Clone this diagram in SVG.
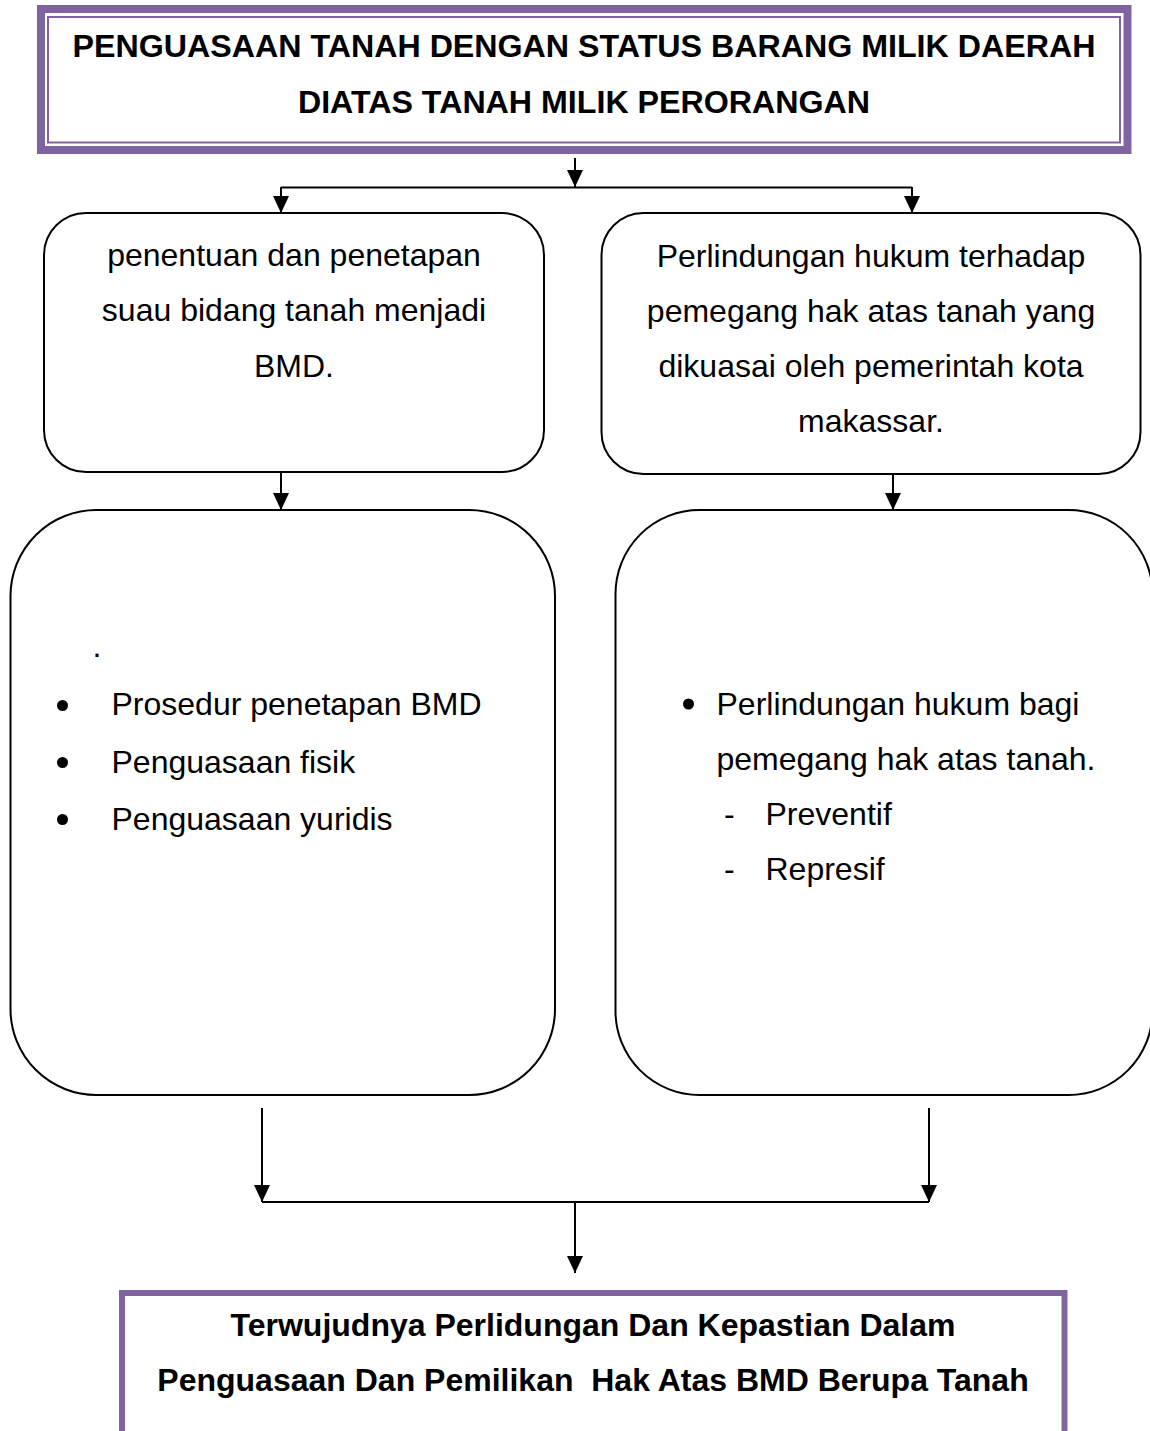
<svg xmlns="http://www.w3.org/2000/svg" width="1150" height="1431" viewBox="0 0 1150 1431">
<style>
.t{font-family:"Liberation Sans",Arial,sans-serif;font-size:32px;fill:#000}
.b{font-weight:bold}
.h{font-size:32.2px}
.c{text-anchor:middle}
.box{fill:#fff;stroke:#000;stroke-width:2}
.ln{fill:none;stroke:#000;stroke-width:2}
.ar{fill:none;stroke:#000;stroke-width:2;marker-end:url(#ah)}
.pu{fill:none;stroke:#8064A2}
</style>
<defs>
<marker id="ah" markerUnits="userSpaceOnUse" markerWidth="18" markerHeight="16" refX="17" refY="8" orient="auto" viewBox="0 0 18 16">
<path d="M0,0 L17,8 L0,16 z" fill="#000"/>
</marker>
</defs>
<rect width="1150" height="1431" fill="#fff"/>
<g id="connectors">
<line class="ar" x1="575" y1="158" x2="575" y2="187"/>
<line class="ln" x1="281" y1="187.5" x2="912" y2="187.5"/>
<line class="ar" x1="281" y1="187" x2="281" y2="213"/>
<line class="ar" x1="912" y1="187" x2="912" y2="213"/>
<line class="ar" x1="281" y1="472" x2="281" y2="510"/>
<line class="ar" x1="893" y1="474" x2="893" y2="510"/>
<line class="ar" x1="262" y1="1108" x2="262" y2="1202"/>
<line class="ar" x1="929" y1="1108" x2="929" y2="1202"/>
<line class="ln" x1="262" y1="1202" x2="929" y2="1202"/>
<line class="ar" x1="575" y1="1202" x2="575" y2="1273"/>
</g>
<g id="title">
<rect class="pu" x="41" y="9" width="1086.5" height="141" stroke-width="8"/>
<rect class="pu" x="48" y="17" width="1072" height="125.5" stroke-width="2"/>
<text class="t b c h" x="584" y="57">PENGUASAAN TANAH DENGAN STATUS BARANG MILIK DAERAH</text>
<text class="t b c h" x="584" y="113">DIATAS TANAH MILIK PERORANGAN</text>
</g>
<g id="nodeA">
<rect class="box" x="44" y="213" width="500" height="259" rx="42" ry="42"/>
<text class="t c" x="294" y="266">penentuan dan penetapan</text>
<text class="t c" x="294" y="321">suau bidang tanah menjadi</text>
<text class="t c" x="294" y="377">BMD.</text>
</g>
<g id="nodeB">
<rect class="box" x="601.5" y="213" width="539" height="261" rx="42" ry="42"/>
<text class="t c" x="871" y="267">Perlindungan hukum terhadap</text>
<text class="t c" x="871" y="322">pemegang hak atas tanah yang</text>
<text class="t c" x="871" y="377">dikuasai oleh pemerintah kota</text>
<text class="t c" x="871" y="432">makassar.</text>
</g>
<g id="nodeC">
<rect class="box" x="10.5" y="510" width="544.5" height="585" rx="86" ry="86"/>
<text class="t" x="92.5" y="657">.</text>
<circle cx="62.5" cy="705.5" r="5.5"/>
<circle cx="62.5" cy="762.5" r="5.5"/>
<circle cx="62.5" cy="819.5" r="5.5"/>
<text class="t" x="111.5" y="715">Prosedur penetapan BMD</text>
<text class="t" x="111.5" y="773">Penguasaan fisik</text>
<text class="t" x="111.5" y="830">Penguasaan yuridis</text>
</g>
<g id="nodeD">
<rect class="box" x="615.5" y="510" width="537" height="585" rx="84" ry="84"/>
<circle cx="688.5" cy="704" r="5.5"/>
<text class="t" x="716.5" y="715">Perlindungan hukum bagi</text>
<text class="t" x="716.5" y="770">pemegang hak atas tanah.</text>
<text class="t" x="724" y="825">-</text>
<text class="t" x="765.5" y="825">Preventif</text>
<text class="t" x="724" y="880">-</text>
<text class="t" x="765.5" y="880">Represif</text>
</g>
<g id="result">
<rect class="pu" x="122" y="1293" width="942.5" height="160" stroke-width="6"/>
<text class="t b c" x="593" y="1336">Terwujudnya Perlidungan Dan Kepastian Dalam</text>
<text class="t b c" x="593" y="1391" xml:space="preserve">Penguasaan Dan Pemilikan  Hak Atas BMD Berupa Tanah</text>
</g>
</svg>
